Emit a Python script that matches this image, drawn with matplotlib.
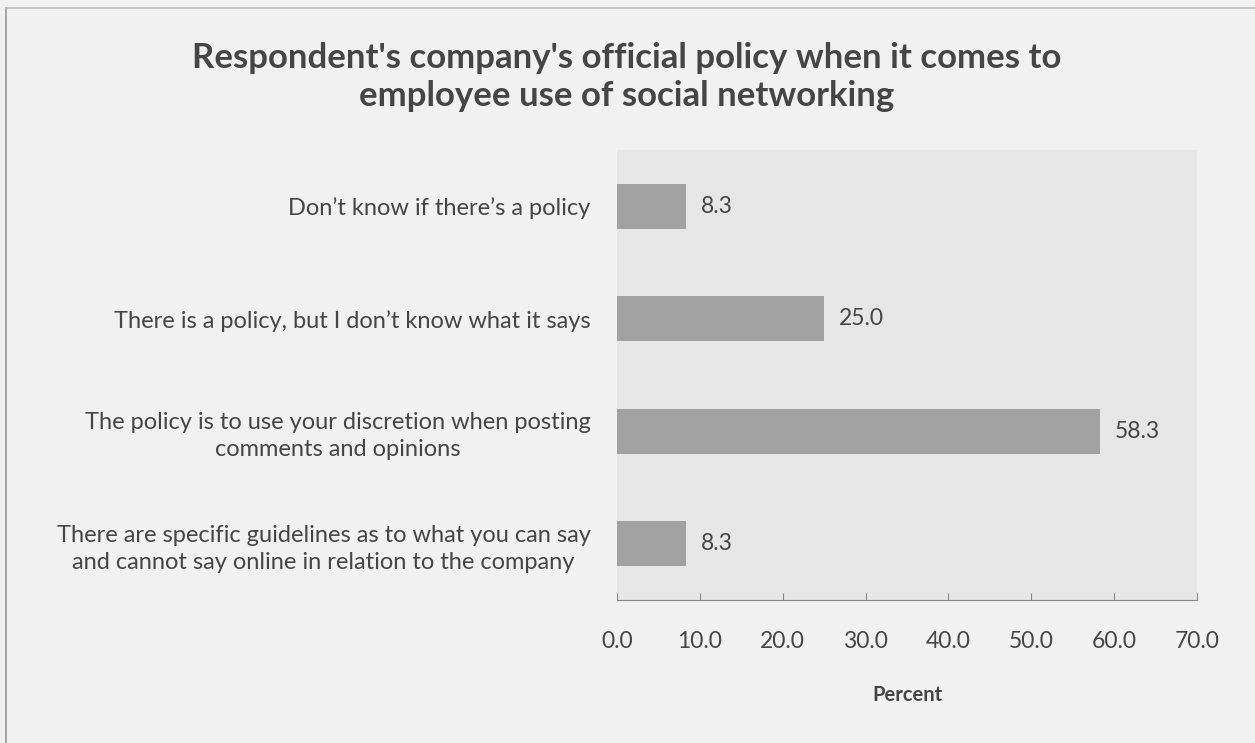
import matplotlib.pyplot as plt
import numpy as np

plt.rcParams['font.family'] = ['Lato', 'DejaVu Sans']

# survey answers, top to bottom
answers = ["Don\u2019t know if there\u2019s a policy",
           "There is a policy, but I don\u2019t know what it says",
           "The policy is to use your discretion when posting\ncomments and opinions",
           "There are specific guidelines as to what you can say\nand cannot say online in relation to the company"]
percent = [8.3, 25.0, 58.3, 8.3]
ticks = [0, 10, 20, 30, 40, 50, 60, 70]

txt = '#454545'
fig = plt.figure(figsize=(12.55, 7.43), dpi=100, facecolor='#f1f1f1')
ax = fig.add_axes([617/1255, 1 - 600/743, 580/1255, 450/743])
ax.set_facecolor('#e6e6e6')

pos = np.arange(len(answers))
ax.barh(pos, percent, height=0.4, color='#a2a2a2')
for p, v in zip(pos, percent):
    ax.text(v + 1.8, p, f'{v:.1f}', va='center', ha='left', fontsize=16.5, color=txt)

ax.set_ylim(len(answers) - 0.5, -0.5)
ax.set_xlim(0, 70)
ax.set_yticks(pos)
ax.set_yticklabels(answers, fontsize=17, color=txt, linespacing=1.35,
                   ha='right', multialignment='center')
ax.set_xticks(ticks)
ax.set_xticklabels([f'{t:.1f}' for t in ticks], fontsize=16.5, color=txt)
ax.tick_params(axis='y', length=0, pad=19)
ax.tick_params(axis='x', length=5, direction='in', color='#888888', pad=22)
for s in ['top', 'right', 'left']:
    ax.spines[s].set_visible(False)
ax.spines['bottom'].set_color('#888888')

ax.set_xlabel('Percent', fontsize=14.5, fontweight='bold', color=txt, labelpad=24)

fig.text(627/1255, 1 - 77/743,
         "Respondent's company's official policy when it comes to\nemployee use of social networking",
         ha='center', va='center', fontsize=25, fontweight='bold', color=txt, linespacing=1.25)

# outer frame lines
fig.add_artist(plt.Line2D([6/1255, 6/1255], [0, 1 - 8/743], transform=fig.transFigure, color='#999999', lw=1.2))
fig.add_artist(plt.Line2D([6/1255, 1], [1 - 8/743, 1 - 8/743], transform=fig.transFigure, color='#bbbbbb', lw=1.2))

fig.savefig('out.png', dpi=100, facecolor=fig.get_facecolor())
